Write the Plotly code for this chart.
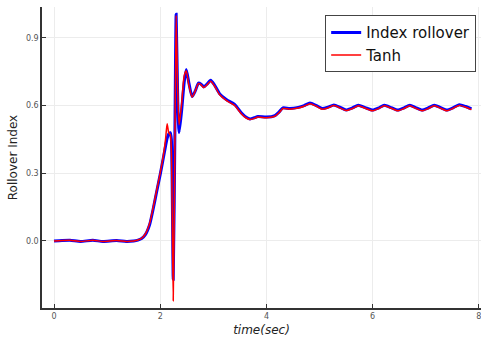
import plotly.graph_objects as go

time_sec = [0.0, 0.15, 0.3, 0.5, 0.73, 0.92, 1.18, 1.36, 1.5, 1.58, 1.65, 1.72, 1.80, 1.87,
            1.93, 2.0, 2.06, 2.10, 2.13, 2.16, 2.19, 2.21, 2.245, 2.275, 2.30, 2.33, 2.355,
            2.40, 2.45, 2.49, 2.54, 2.60, 2.66, 2.72, 2.77, 2.82, 2.88, 2.95, 3.02, 3.12,
            3.25, 3.40, 3.53, 3.62, 3.69, 3.77, 3.84, 4.0, 4.16, 4.24, 4.31, 4.44, 4.6,
            4.71, 4.82, 4.94, 5.05, 5.16, 5.27, 5.39, 5.50, 5.62, 5.73, 5.86, 6.0, 6.11,
            6.22, 6.35, 6.47, 6.58, 6.70, 6.81, 6.93, 7.04, 7.16, 7.28, 7.40, 7.51, 7.63,
            7.75, 7.86]

index_rollover = [0.0, 0.002, 0.003, -0.002, 0.003, -0.002, 0.002, -0.002, 0.0, 0.004,
                  0.011, 0.028, 0.072, 0.145, 0.215, 0.295, 0.37, 0.42, 0.455, 0.475,
                  0.48, 0.45, -0.17, 0.45, 1.005, 0.62, 0.48, 0.57, 0.70, 0.76, 0.70,
                  0.64, 0.665, 0.70, 0.695, 0.683, 0.695, 0.712, 0.692, 0.652, 0.626,
                  0.605, 0.567, 0.548, 0.541, 0.546, 0.552, 0.549, 0.556, 0.572, 0.590,
                  0.587, 0.592, 0.600, 0.612, 0.600, 0.587, 0.593, 0.603, 0.592, 0.581,
                  0.590, 0.602, 0.591, 0.580, 0.589, 0.602, 0.591, 0.580, 0.589, 0.602,
                  0.591, 0.580, 0.589, 0.602, 0.591, 0.580, 0.590, 0.604, 0.596, 0.585]

tanh = [0.0, 0.002, 0.003, -0.002, 0.003, -0.002, 0.002, -0.002, 0.0, 0.004,
        0.012, 0.031, 0.078, 0.152, 0.222, 0.302, 0.38, 0.45, 0.52, 0.48,
        0.47, 0.40, -0.265, 0.40, 1.0, 0.66, 0.515, 0.60, 0.73, 0.755, 0.69,
        0.638, 0.665, 0.698, 0.692, 0.680, 0.692, 0.708, 0.688, 0.648, 0.622,
        0.601, 0.563, 0.545, 0.538, 0.543, 0.549, 0.546, 0.553, 0.569, 0.587,
        0.584, 0.589, 0.597, 0.608, 0.597, 0.584, 0.590, 0.600, 0.589, 0.578,
        0.587, 0.599, 0.588, 0.577, 0.586, 0.599, 0.588, 0.577, 0.586, 0.599,
        0.588, 0.577, 0.586, 0.599, 0.588, 0.577, 0.587, 0.601, 0.593, 0.582]

x_ticks = [0, 2, 4, 6, 8]
y_ticks = [0.0, 0.3, 0.6, 0.9]
y_tick_labels = ["0.0", "0.3", "0.6", "0.9"]

fig = go.Figure()
fig.add_trace(go.Scatter(x=time_sec, y=index_rollover, mode="lines", name="Index rollover",
                         line=dict(color="#0000ff", width=3, shape="spline", smoothing=0.6)))
fig.add_trace(go.Scatter(x=time_sec, y=tanh, mode="lines", name="Tanh",
                         line=dict(color="#ff0000", width=1.5, shape="spline", smoothing=0.6)))

axis_common = dict(showline=True, linecolor="#333333", linewidth=1.5, mirror=False,
                   showgrid=True, gridcolor="#ececec", gridwidth=1, zeroline=False,
                   ticks="inside", ticklen=4, tickcolor="#333333",
                   ticklabeloverflow="allow",
                   tickfont=dict(family="DejaVu Sans", size=8, color="#555555"))

fig.update_xaxes(range=[-0.226, 8.04], tickvals=x_ticks, ticktext=[str(v) for v in x_ticks],
                 title=dict(text="<i>time(sec)</i>", font=dict(family="DejaVu Sans", size=12, color="#222222"),
                            standoff=5),
                 **axis_common)
fig.update_yaxes(range=[-0.297, 1.037], tickvals=y_ticks, ticktext=y_tick_labels,
                 title=dict(text="Rollover Index", font=dict(family="DejaVu Sans", size=12, color="#222222"),
                            standoff=6),
                 **axis_common)

fig.update_layout(
    width=481, height=341,
    margin=dict(l=42, r=0, t=7, b=33),
    paper_bgcolor="white", plot_bgcolor="white",
    showlegend=True,
    legend=dict(x=0.989, y=0.973, xanchor="right", yanchor="top",
                bgcolor="white", bordercolor="#444444", borderwidth=1,
                font=dict(family="DejaVu Sans", size=15, color="#111111"),
                itemwidth=30, tracegroupgap=0),
    font=dict(family="DejaVu Sans"),
)

fig.write_html("out.html")
